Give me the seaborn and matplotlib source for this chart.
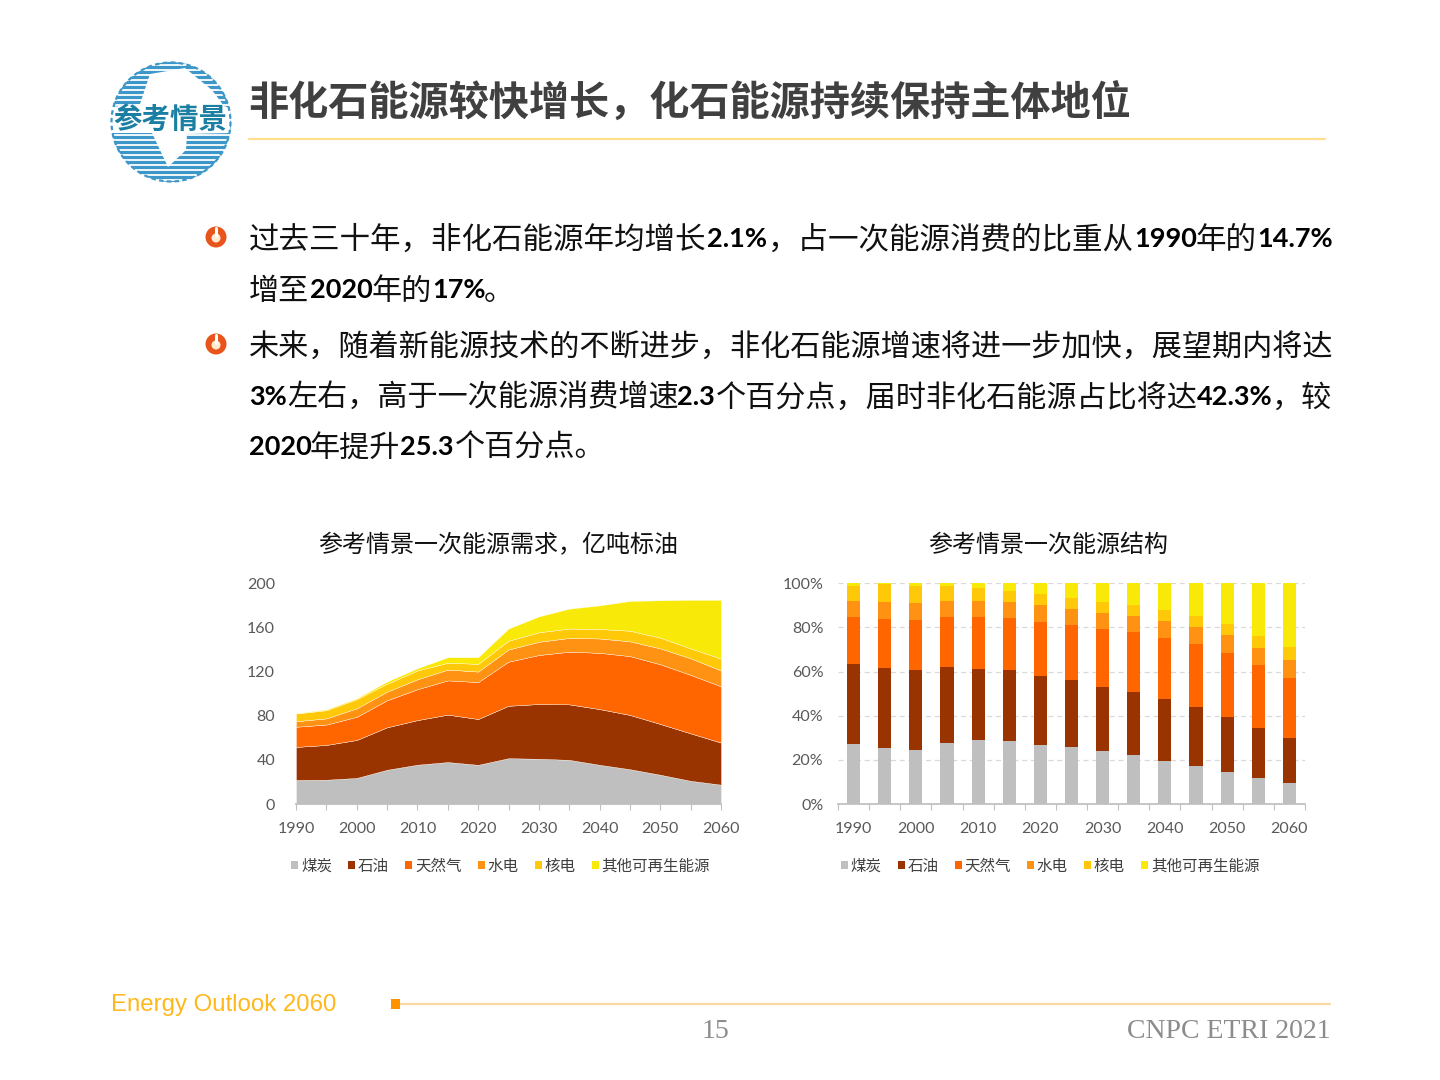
import matplotlib
matplotlib.use("Agg")
import matplotlib.pyplot as plt
import seaborn as sns
from matplotlib.patches import Circle, Patch, Polygon, Rectangle

# Data
years = [1990, 1995, 2000, 2005, 2010, 2015, 2020, 2025, 2030, 2035, 2040, 2045, 2050, 2055, 2060]
sources = ["煤炭", "石油", "天然气", "水电", "核电", "其他可再生能源"]
colors = ["#BFBFBF", "#993300", "#FF6600", "#FF9212", "#FFC90A", "#F9E908"]

# demand, 100 million toe
coal = [21.8, 22, 23.6, 31, 35.6, 38, 35.5, 41.5, 41, 40, 35.5, 31.5, 26.5, 21, 17.5]
oil = [29.9, 31.5, 34.4, 38.5, 40.4, 43, 41.5, 47.5, 49.6, 50.3, 50.5, 49.2, 46, 43, 38.1]
gas = [18.3, 18.5, 21, 24.5, 28, 31, 33.5, 40, 44.4, 47.7, 51, 53.3, 54.1, 53, 51]
hydro = [5, 5.6, 7.7, 7.8, 9, 9.8, 9.5, 11, 12, 12.5, 13, 13.4, 14.4, 15, 14.4]
nuclear = [7, 7.4, 8.3, 7.2, 8, 6.2, 7, 8, 8.6, 8.5, 8.6, 9.6, 9.7, 9, 10.7]
other = [0.2, 0.8, 0.8, 2, 2, 5, 6, 11, 14.4, 18, 21.4, 27, 33.9, 44, 53.3]
demand = [coal, oil, gas, hydro, nuclear, other]

# structure, percent
coal_pct = [27, 25.4, 24.5, 27.8, 29, 28.4, 26.6, 25.8, 23.9, 22.4, 19.6, 17, 14.4, 11.6, 9.4]
oil_pct = [36.4, 36.4, 36.2, 34.4, 32.2, 32.3, 31.3, 30.4, 29.3, 28.5, 28, 27, 25, 23, 20.5]
gas_pct = [21.3, 22, 22.7, 22.5, 23.5, 23.7, 24.6, 24.9, 26.1, 27, 27.6, 28.5, 29, 28.4, 27.2]
hydro_pct = [7.3, 7.7, 7.6, 7.3, 7.3, 7.1, 7.7, 7.3, 7.3, 7.3, 7.6, 7.7, 8.2, 7.7, 8.2]
nuclear_pct = [7, 8, 8, 7, 5.9, 5, 5, 5, 4.9, 5, 5.1, 4.8, 5, 5.4, 5.8]
other_pct = [1, 0.5, 1, 1, 2.1, 3.5, 4.8, 6.6, 8.5, 9.8, 12.1, 15, 18.4, 23.9, 28.9]
structure = [coal_pct, oil_pct, gas_pct, hydro_pct, nuclear_pct, other_pct]

title = "非化石能源较快增长，化石能源持续保持主体地位"
left_title = "参考情景一次能源需求，亿吨标油"
right_title = "参考情景一次能源结构"

# (baseline px, cjk size, runs of (x px, text, bold latin?))
body_lines = [
    (247, 22.0, [(249, "过去三十年，非化石能源年均增长", 0), (707, "2.1%", 1), (768, "，占一次能源消费的比重从", 0),
                 (1134, "1990", 1), (1196, "年的", 0), (1257, "14.7%", 1)]),
    (298, 21.7, [(249, "增至", 0), (310, "2020", 1), (372, "年的", 0), (432, "17%", 1), (484, "。", 0)]),
    (354, 21.73, [(249, "未来，随着新能源技术的不断进步，非化石能源增速将进一步加快，展望期内将达", 0)]),
    (405, 21.7, [(249, "3%", 1), (287, "左右，高于一次能源消费增速", 0), (677, "2.3", 1),
                 (716, "个百分点，届时非化石能源占比将达", 0), (1197, "42.3%", 1), (1272, "，较", 0)]),
    (455, 21.7, [(249, "2020", 1), (310, "年提升", 0), (400, "25.3", 1), (455, "个百分点。", 0)]),
]

sns.set_theme(style="white")
plt.rcParams["font.family"] = ["Noto Sans CJK SC", "DejaVu Sans"]

W, H = 1440, 1080
fig = plt.figure(figsize=(W / 100, H / 100), dpi=100, facecolor="white")


def axes_px(x0, x1, y_top, y_bottom):
    return fig.add_axes([x0 / W, 1 - y_bottom / H, (x1 - x0) / W, (y_bottom - y_top) / H])


# Page furniture drawn in pixel coordinates
page = fig.add_axes([0, 0, 1, 1])
page.set_xlim(0, W)
page.set_ylim(H, 0)
page.axis("off")

page.text(248, 103, title, fontsize=28.9, fontweight="bold", color="#404040", va="center")
page.plot([249, 1325], [139, 139], color="#FFDF8C", lw=1.6)

# Logo
globe = Circle((171, 122), 60, transform=page.transData)
for y in range(62, 184, 5):
    line, = page.plot([108, 234], [y, y], color="#3D97C9", lw=2.3, solid_capstyle="butt", zorder=2)
    line.set_clip_path(globe)
page.add_patch(Polygon([(150, 74), (185, 68), (212, 90), (224, 106), (230, 108), (230, 133), (187, 134), (186, 150),
                        (168, 167), (160, 150), (152, 133), (110, 133), (110, 107), (140, 104)],
                       closed=True, fc="white", ec="none", zorder=3))
page.add_patch(Circle((171, 122), 59.5, fc="none", ec="#3D97C9", lw=1.6, ls=(0, (2, 1.5)), zorder=3))
page.text(170, 120, "参考情景", fontsize=20.5, fontweight="bold", color="#1B7FA3", ha="center", va="center", zorder=4)

# Bullets
for cy in [237, 344]:
    page.add_patch(Circle((216, cy), 10.5, fc="#E8551C", ec="none", zorder=2))
    page.add_patch(Circle((216, cy + 1), 4.5, fc="#FFE9D0", ec="none", zorder=3))
    page.plot([216, 216], [cy - 9, cy - 1], color="white", lw=2.2, zorder=4)

for base, size, runs in body_lines:
    for x, text, bold in runs:
        if bold:
            page.text(x, base, text, fontsize=19.5, fontfamily="Lato", fontweight="bold", color="black", va="baseline")
        else:
            page.text(x, base + 2, text, fontsize=size, color="#111111", va="baseline")

page.text(498, 545, left_title, fontsize=17.3, color="#111111", ha="center", va="center")
page.text(1048, 545, right_title, fontsize=17.3, color="#111111", ha="center", va="center")

# Footer
page.text(111, 1005, "Energy Outlook 2060", fontsize=17.3, fontfamily="Liberation Sans", color="#FFB81C", va="center")
page.plot([396, 1330], [1003.5, 1003.5], color="#FAD9A0", lw=1.6, zorder=2)
page.add_patch(Rectangle((391, 999), 9, 10, fc="#FF9200", ec="none", zorder=3))
page.text(715, 1031, "15", fontsize=20, fontfamily="Liberation Serif", color="#8C8C8C", ha="center", va="center")
page.text(1331, 1031, "CNPC ETRI 2021", fontsize=20, fontfamily="Liberation Serif", color="#8C8C8C", ha="right", va="center")

tick_color = "#595959"
axis_color = "#BFBFBF"
handles = [Patch(fc=c, ec="none", label=s) for c, s in zip(colors, sources)]


def style_axis(ax, ypad):
    sns.despine(ax=ax, left=True, top=True, right=True)
    ax.spines["bottom"].set_color(axis_color)
    ax.tick_params(axis="y", length=0, pad=ypad, labelsize=11.5, labelcolor=tick_color)
    for lab in ax.get_yticklabels():
        lab.set_fontfamily("Lato")
    ax.set_xlabel("")
    ax.set_ylabel("")


def add_legend(center_px):
    return fig.legend(handles=handles, loc="center", bbox_to_anchor=(center_px / W, 1 - 866 / H), ncol=6,
                      frameon=False, fontsize=11.2, handlelength=0.45, handleheight=0.5, handletextpad=0.18,
                      columnspacing=1.04, labelcolor="#404040", borderpad=0)


# Left: stacked area
ax1 = axes_px(296, 721, 583.3, 804)
ax1.stackplot(years, demand, colors=colors, edgecolor="#FFFFFF", linewidth=0.25)
ax1.set_xlim(1990, 2060)
ax1.set_ylim(0, 200)
ax1.set_yticks([0, 40, 80, 120, 160, 200])
ax1.set_xticks(years)
ax1.set_xticklabels([str(y) if y % 10 == 0 else "" for y in years], fontfamily="Lato")
style_axis(ax1, 15)
ax1.tick_params(axis="x", length=4.5, width=0.8, color=axis_color, bottom=True, pad=8.7, labelsize=11.5, labelcolor=tick_color)
add_legend(500.5)

# Right: stacked 100% bars
ax2 = axes_px(838, 1305, 583.3, 804)
bottom = [0.0] * len(years)
labels = [str(y) for y in years]
for vals, c in zip(structure, colors):
    sns.barplot(x=labels, y=vals, bottom=bottom, color=c, saturation=1, width=0.42, linewidth=0, ax=ax2, order=labels)
    bottom = [b + v for b, v in zip(bottom, vals)]
ax2.set_xlim(-0.5, len(years) - 0.5)
ax2.set_ylim(0, 100)
ax2.set_yticks([0, 20, 40, 60, 80, 100])
ax2.set_yticklabels([f"{v}%" for v in [0, 20, 40, 60, 80, 100]])
ax2.set_axisbelow(True)
ax2.yaxis.grid(True, color="#D9D9D9", lw=0.9, ls=(0, (4, 3)))
ax2.xaxis.grid(False)
# category boundaries get the tick marks, every other category the label
ax2.set_xticks([i - 0.5 for i in range(len(years) + 1)])
ax2.set_xticklabels([])
ax2.set_xticks(range(0, len(years), 2), minor=True)
ax2.set_xticklabels(labels[::2], minor=True, fontfamily="Lato")
style_axis(ax2, 10.6)
ax2.tick_params(axis="x", which="major", length=4.5, width=0.8, color=axis_color, bottom=True)
ax2.tick_params(axis="x", which="minor", length=0, pad=13.2, labelsize=11.5, labelcolor=tick_color, bottom=True)
add_legend(1050)

fig.savefig("out.png", dpi=100, facecolor="white")
